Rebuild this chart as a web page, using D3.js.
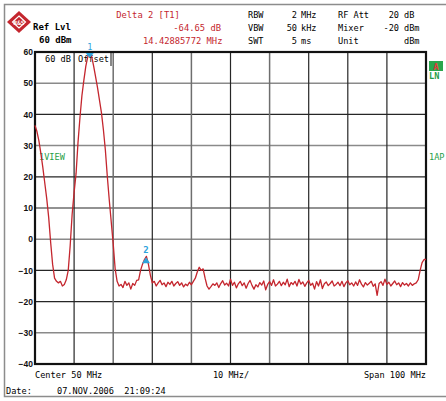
<!DOCTYPE html>
<html>
<head>
<meta charset="utf-8">
<script src="https://cdn.jsdelivr.net/npm/d3@7"></script>
<style>
  body { margin: 0; background: #fff; }
  text { font-family: "DejaVu Sans Mono", monospace; }
</style>
</head>
<body>
<svg id="chart" width="446" height="401"></svg>
<script>
// sweep levels in dBm, one point every 0.5 MHz from 0 to 100 MHz
var levels = [
  36.5, 34.5, 31.5, 27.5, 23, 18, 13, 7, -1, -8,
  -12.5, -13.5, -14, -13.5, -15, -14.5, -13, -10, -2, 8,
  15, 21, 31, 39, 46, 51, 55.5, 58.5, 59.5, 58.5,
  55.5, 52, 48.5, 44.5, 40.5, 35, 28.5, 20, 12.5, 5.5,
  -1.5, -9.5, -13.5, -15, -14.5, -15.5, -13.5, -14.8, -14, -16,
  -14.2, -14.8, -13.2, -13, -10, -8, -6.5, -5.5, -8, -11.5,
  -14, -13.5, -15, -14, -13.2, -14.6, -14, -15.2, -13.8, -14.5,
  -13.5, -15, -14.2, -13.6, -14.8, -14, -15.3, -14.4, -14.9, -13.8,
  -14.6, -13.5, -12.5, -10.5, -9, -10, -9.5, -12.5, -15, -16,
  -15.2, -14.3, -14.8, -14, -15.5, -14.2, -13.3, -14.7, -14.1, -15,
  -12.8, -14.8, -13.8, -15.6, -14.3, -13.5, -14.9, -14, -15.7, -14.2,
  -13.2, -14.8, -16, -14.6, -15.3, -13.9, -14.7, -13.4, -16.2, -14.5,
  -13.6, -14.8, -13, -15, -14.4, -13.5, -14.9, -13.8, -14.6, -12.8,
  -15.2, -13.9, -14.5, -13.5, -15, -12.9, -14.4, -13.7, -15.1, -14,
  -13.2, -14.8, -14.1, -16, -13.6, -15, -13, -15.8, -14.3, -13.7,
  -14.9, -14.2, -13.4, -15, -14.5, -13.8, -14.9, -13.5, -15.2, -14,
  -13.3, -14.6, -14, -15, -13.7, -14.8, -13, -14.4, -15.3, -13.9,
  -14.7, -14.1, -13.5, -15.1, -14.3, -18, -14.2, -13.6, -14.8, -12.8,
  -14.5, -13.8, -15, -14.2, -13.4, -14.6, -14, -15.2, -13.9, -14.7,
  -14.2, -15, -14, -14.8, -14.3, -14, -13, -10, -7.5, -6.5,
  -6.5
];
var freqs = d3.range(levels.length).map(function(i) { return i * 0.5; });

var yTicks = [60, 50, 40, 30, 20, 10, 0, -10, -20, -30, -40];
var xTicks = [0, 10, 20, 30, 40, 50, 60, 70, 80, 90, 100];
var grayY = [50, 30, 0, -30];
var grayX = [20, 40, 60];

var markerIds = ["1", "2"];
var markerFreqs = [14.0, 28.4];
var markerLevels = [59.5, -5.5];

var headLeft = ["RBW", "VBW", "SWT"];
var headLeftVal = ["2", "50", "5"];
var headLeftUnit = ["MHz", "kHz", "ms"];
var headRight = ["RF Att", "Mixer", "Unit"];
var headRightVal = ["20", "-20", ""];
var headRightUnit = ["dB", "dBm", "dBm"];

var red = "#c4262e", green = "#1f9e48", blue = "#2ea3dc";

var svg = d3.select("#chart");
var x = d3.scaleLinear().domain([0, 100]).range([35, 426]);
var y = d3.scaleLinear().domain([-40, 60]).range([364, 52]);

// outer frame
svg.append("rect").attr("x", 4.5).attr("y", 4.5).attr("width", 460).attr("height", 392)
  .attr("fill", "none").attr("stroke", "#8c8c8c").attr("stroke-width", 1.5);

// logo
var logo = svg.append("g").attr("transform", "translate(19,22)");
logo.append("path").attr("d", "M0,-11L12,0L0,11L-12,0Z").attr("fill", red);
logo.append("path").attr("d", "M0,-6L6.5,0L0,6L-6.5,0Z").attr("fill", "none").attr("stroke", "#fff").attr("stroke-width", 1.2);
logo.append("text").attr("x", 0).attr("y", 2.5).attr("text-anchor", "middle")
  .attr("fill", "#fff").style("font-size", "6px").style("font-weight", "bold").text("R&S");

svg.append("text").attr("x", 33).attr("y", 30).style("font-size", "9px").style("font-weight", "bold").text("Ref Lvl");
svg.append("text").attr("x", 39).attr("y", 43).style("font-size", "9px").style("font-weight", "bold").text("60 dBm");

svg.append("text").attr("x", 148).attr("y", 18).attr("text-anchor", "middle").attr("fill", red)
  .style("font-size", "8.8px").text("Delta 2 [T1]");
svg.append("text").attr("x", 221).attr("y", 31).attr("text-anchor", "end").attr("fill", red)
  .style("font-size", "8.8px").text("-64.65 dB");
svg.append("text").attr("x", 143).attr("y", 44).attr("fill", red)
  .style("font-size", "8.8px").text("14.42885772 MHz");

[18, 31, 44].forEach(function(by, i) {
  svg.append("text").attr("x", 248).attr("y", by).style("font-size", "8.6px").text(headLeft[i]);
  svg.append("text").attr("x", 297).attr("y", by).attr("text-anchor", "end").style("font-size", "8.6px").text(headLeftVal[i]);
  svg.append("text").attr("x", 301).attr("y", by).style("font-size", "8.6px").text(headLeftUnit[i]);
  svg.append("text").attr("x", 338).attr("y", by).style("font-size", "8.6px").text(headRight[i]);
  svg.append("text").attr("x", 399).attr("y", by).attr("text-anchor", "end").style("font-size", "8.6px").text(headRightVal[i]);
  svg.append("text").attr("x", 404).attr("y", by).style("font-size", "8.6px").text(headRightUnit[i]);
});

// grid
svg.append("g").selectAll("line").data(yTicks).join("line")
  .attr("x1", x(0)).attr("x2", x(100))
  .attr("y1", function(d) { return y(d); }).attr("y2", function(d) { return y(d); })
  .attr("stroke", function(d) { return grayY.indexOf(d) >= 0 ? "#8a8a8a" : "#262626"; })
  .attr("stroke-width", function(d) { return grayY.indexOf(d) >= 0 ? 1.5 : 1.2; });
svg.append("g").selectAll("line").data(xTicks).join("line")
  .attr("y1", y(60)).attr("y2", y(-40))
  .attr("x1", function(d) { return x(d); }).attr("x2", function(d) { return x(d); })
  .attr("stroke", function(d) { return grayX.indexOf(d) >= 0 ? "#6e6e6e" : "#262626"; })
  .attr("stroke-width", function(d) { return grayX.indexOf(d) >= 0 ? 1.5 : 1.2; });
svg.append("rect").attr("x", x(0)).attr("y", y(60)).attr("width", x(100) - x(0)).attr("height", y(-40) - y(60))
  .attr("fill", "none").attr("stroke", "#111").attr("stroke-width", 2.2);

// y labels
var yAxis = svg.append("g").attr("transform", "translate(34,0)")
  .call(d3.axisLeft(y).tickValues(yTicks).tickSize(0).tickPadding(1));
yAxis.select(".domain").remove();
yAxis.selectAll("text").style("font-family", "Liberation Sans, Arial, sans-serif")
  .style("font-size", "8.5px").style("font-weight", "bold").attr("fill", "#111");

// offset box
svg.append("text").attr("x", 45).attr("y", 62).style("font-size", "8.6px").text("60 dB");
svg.append("text").attr("x", 78).attr("y", 62).style("font-size", "8.6px").text("Offset");
svg.append("line").attr("x1", 111).attr("x2", 111).attr("y1", y(60)).attr("y2", 66)
  .attr("stroke", "#111").attr("stroke-width", 1);

// side labels
svg.append("text").attr("x", 39).attr("y", 160).attr("fill", green).style("font-size", "8.6px").text("1VIEW");
svg.append("text").attr("x", 429).attr("y", 160).attr("fill", green).style("font-size", "8.6px").text("1AP");
svg.append("rect").attr("x", 429).attr("y", 61).attr("width", 14).attr("height", 10).attr("fill", "#2aa64c");
svg.append("text").attr("x", 436).attr("y", 69.5).attr("text-anchor", "middle").attr("fill", "#e03a3a")
  .style("font-size", "9px").style("font-weight", "bold").text("A");
svg.append("text").attr("x", 429).attr("y", 79).attr("fill", green).style("font-size", "8.6px").style("font-weight", "bold").text("LN");

// trace
var line = d3.line().x(function(d, i) { return x(freqs[i]); }).y(function(d) { return y(d); });
svg.append("path").datum(levels).attr("d", line)
  .attr("fill", "none").attr("stroke", red).attr("stroke-width", 1.3).attr("stroke-linejoin", "round");

// markers
markerIds.forEach(function(id, i) {
  var mx = x(markerFreqs[i]), my = y(markerLevels[i]);
  if (i === 0) {
    svg.append("path").attr("d", "M" + (mx - 4) + "," + (y(60) + 1) + "L" + (mx + 4) + "," + (y(60) + 1) + "L" + mx + "," + (y(60) + 6) + "Z").attr("fill", blue);
    svg.append("text").attr("x", mx).attr("y", y(60) - 2).attr("text-anchor", "middle").attr("fill", blue)
      .style("font-size", "8.6px").text(id);
  } else {
    svg.append("path").attr("d", "M" + (mx - 4) + "," + (my + 7) + "L" + (mx + 4) + "," + (my + 7) + "L" + mx + "," + (my + 1) + "Z").attr("fill", blue);
    svg.append("text").attr("x", mx).attr("y", my - 3).attr("text-anchor", "middle").attr("fill", blue)
      .style("font-size", "9px").style("font-weight", "bold").text(id);
  }
});

// bottom texts
svg.append("text").attr("x", 35).attr("y", 378).style("font-size", "8.6px").text("Center 50 MHz");
svg.append("text").attr("x", 231).attr("y", 378).attr("text-anchor", "middle").style("font-size", "8.6px").text("10 MHz/");
svg.append("text").attr("x", 426).attr("y", 378).attr("text-anchor", "end").style("font-size", "8.6px").text("Span 100 MHz");
svg.append("text").attr("x", 6).attr("y", 394).style("font-size", "8.6px").text("Date:");
svg.append("text").attr("x", 57).attr("y", 394).style("font-size", "8.6px").style("white-space", "pre").text("07.NOV.2006  21:09:24");
</script>
</body>
</html>
